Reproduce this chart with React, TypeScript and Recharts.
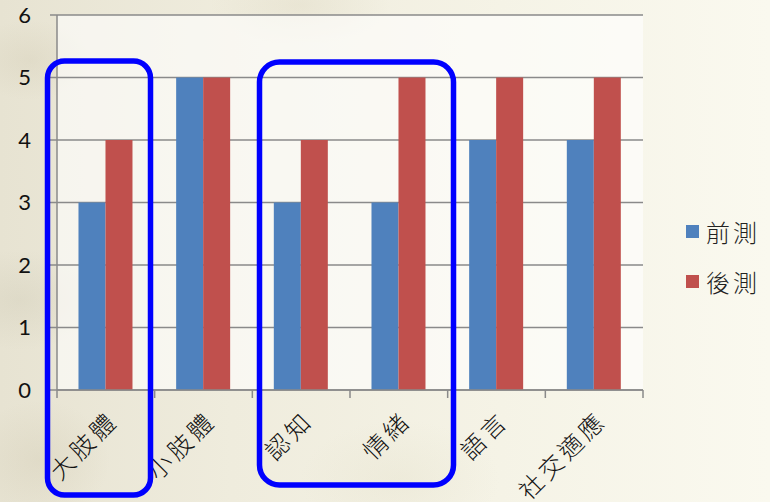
import React from "react";
import { BarChart, Bar, XAxis, YAxis, CartesianGrid } from "recharts";

const categories = ["大肢體", "小肢體", "認知", "情緒", "語言", "社交適應"];
const preTest = [3, 5, 3, 3, 4, 4];
const postTest = [4, 5, 4, 5, 5, 5];
const yTicks = [0, 1, 2, 3, 4, 5, 6];
const seriesNames = ["前測", "後測"];
const seriesColors = ["#4F81BD", "#C0504D"];

const data = categories.map((c, i) => ({ name: c, pre: preTest[i], post: postTest[i] }));

const W = 770;
const H = 502;
const M = { top: 15, right: 127, bottom: 0, left: 0 };
const X_AXIS_H = 112;
const Y_AXIS_W = 57;
const AXIS_COLOR = "#8A8A8A";
const CJK = '"Noto Sans CJK TC", "Noto Sans CJK SC", sans-serif';

const CategoryTick = (props: any) => {
  const { x, y, payload, index } = props;
  const half = payload && payload.offset ? payload.offset : (W - M.right - Y_AXIS_W) / categories.length / 2;
  const left = x - half;
  const px = x + 14;
  const py = y + 30;
  return (
    <g>
      <line x1={left} y1={y - 2} x2={left} y2={y + 6} stroke={AXIS_COLOR} strokeWidth={1.5} />
      {index === categories.length - 1 && (
        <line x1={x + half} y1={y - 2} x2={x + half} y2={y + 6} stroke={AXIS_COLOR} strokeWidth={1.5} />
      )}
      <text
        x={px}
        y={py}
        textAnchor="end"
        transform={`rotate(-45, ${px}, ${py})`}
        fontFamily={CJK}
        fontSize={24}
        fontWeight={300}
        letterSpacing={4}
        fill="#111"
      >
        {payload.value}
      </text>
    </g>
  );
};

const bg = [
  "radial-gradient(60px 40px at 30px 60px, rgba(190,180,150,0.18), transparent)",
  "radial-gradient(80px 50px at 20px 300px, rgba(180,175,150,0.18), transparent)",
  "radial-gradient(70px 60px at 40px 460px, rgba(190,180,150,0.2), transparent)",
  "radial-gradient(90px 40px at 300px 5px, rgba(200,190,160,0.18), transparent)",
  "radial-gradient(100px 60px at 400px 480px, rgba(215,210,180,0.18), transparent)",
  "linear-gradient(90deg, #E7E3D2 0%, #EFECDD 30%, #F5F3E6 65%, #FAF9EF 100%)",
].join(",");

export default function App() {
  return (
    <div style={{ position: "absolute", left: 0, top: 0, width: W, height: H, background: bg, overflow: "hidden" }}>
      <BarChart
        width={W}
        height={H}
        data={data}
        margin={M}
        barCategoryGap="22%"
        barGap={0}
      >
        <CartesianGrid
          vertical={false}
          stroke={AXIS_COLOR}
          strokeWidth={1.5}
          fill="rgba(255,255,255,0.6)"
          fillOpacity={1}
        />
        <YAxis
          type="number"
          domain={[0, 6]}
          ticks={yTicks}
          interval={0}
          width={Y_AXIS_W}
          axisLine={{ stroke: AXIS_COLOR, strokeWidth: 1.5 }}
          tickLine={{ stroke: AXIS_COLOR, strokeWidth: 1.5 }}
          tickSize={7}
          tickMargin={19}
          tick={{ fill: "#111", fontSize: 22, fontFamily: "Lato, 'Open Sans', sans-serif" }}
        />
        <XAxis
          dataKey="name"
          interval={0}
          axisLine={{ stroke: AXIS_COLOR, strokeWidth: 1.5 }}
          tickLine={false}
          tickSize={0}
          tick={<CategoryTick />}
          height={X_AXIS_H}
        />
        <Bar dataKey="pre" name={seriesNames[0]} fill={seriesColors[0]} isAnimationActive={false} />
        <Bar dataKey="post" name={seriesNames[1]} fill={seriesColors[1]} isAnimationActive={false} />
      </BarChart>
      <div style={{ position: "absolute", left: 686, top: 206, fontFamily: CJK, fontSize: 24, letterSpacing: 3, color: "#222", fontWeight: 300 }}>
        {seriesNames.map((n, i) => (
          <div key={n} style={{ display: "flex", alignItems: "center", height: 50 }}>
            <div style={{ width: 13, height: 13, background: seriesColors[i], marginRight: 7 }} />
            <span>{n}</span>
          </div>
        ))}
      </div>
      <svg width={W} height={H} style={{ position: "absolute", left: 0, top: 0, pointerEvents: "none" }}>
        <rect x={47.5} y={61} width={103} height={434} rx={17} ry={17} fill="none" stroke="#0000FF" strokeWidth={5.5} />
        <rect x={259.5} y={62} width={194} height={423} rx={20} ry={20} fill="none" stroke="#0000FF" strokeWidth={5.5} />
      </svg>
    </div>
  );
}
